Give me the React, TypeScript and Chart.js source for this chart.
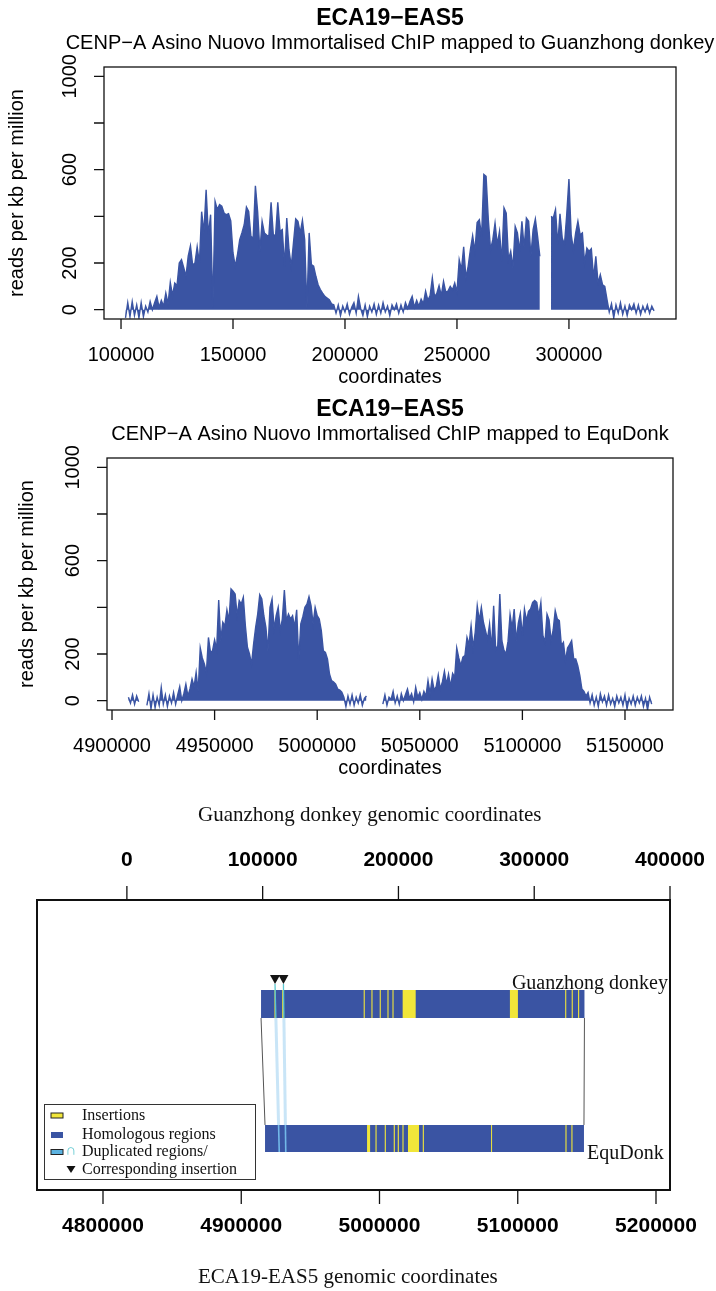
import { useEffect, useRef } from 'react';
import { Chart, registerables } from 'chart.js';

Chart.register(...registerables);

// ---------------------------------------------------------------------------
// ChIP signal, one value per kb (reads per kb per million), null = no data
// ---------------------------------------------------------------------------
const GUANZHONG_START_KB = 102;
const GUANZHONG_SIGNAL: (number | null)[] = [
  -35, 30, -30, 35, -25, 20, -35, 30, -30, 15, // 102-111
  -10, 35, 0, 30, 57, 10, 40, 15, 71, 25, // 112-121
  117, 60, 114, 103, 200, 214, 180, 143, 229, 274, // 122-131
  190, 200, 270, 200, 420, 329, 514, 320, 407, 10, // 132-141
  464, 429, 450, 443, 414, 407, 411, 380, 243, 186, // 142-151
  236, 300, 330, 364, 440, 421, 314, 307, 531, 421, // 152-161
  250, 379, 329, 320, 314, 460, 321, 317, 460, 336, // 162-171
  343, 186, 393, 257, 186, 286, 389, 379, 329, 383, // 172-181
  300, 5, 329, 193, 186, 143, 107, 86, 71, 57, // 182-191
  50, 43, 25, 21, -15, 20, -25, 15, -10, 25, // 192-201
  -20, 10, 30, -15, 57, 5, -25, 20, -30, 15, // 202-211
  -10, 25, -20, 20, -15, 30, -10, 15, -25, 20, // 212-221
  0, 25, -15, 20, -10, 30, 5, 35, 57, 10, // 222-231
  40, 15, 45, 25, 79, 40, 60, 136, 55, 70, // 232-241
  103, 60, 121, 75, 80, 100, 85, 114, 75, 214, // 242-251
  171, 269, 136, 186, 257, 317, 250, 374, 386, 314, // 252-261
  579, 571, 386, 257, 300, 371, 279, 336, 207, 436, // 262-271
  414, 214, 250, 179, 357, 329, 250, 379, 264, 393, // 272-281
  379, 229, 343, 389, 314, 229, null, null, null, null, // 282-291
  400, 393, 429, 279, 411, 307, 279, 407, 560, 321, // 292-301
  257, 329, 379, 321, 329, 200, 264, 250, 261, 136, // 302-311
  229, 114, 150, 107, 100, 43, -10, 25, -35, 20, // 312-321
  -15, 30, -20, 15, -25, 20, 0, 25, -15, 20, // 322-331
  -20, 15, -10, 20, -15, 15, -5, // 332-338
];

const EQUDONK_START_KB = 4908;
const EQUDONK_SIGNAL: (number | null)[] = [
  15, -10, 25, -15, 20, -5, null, null, null, -20, // 4908-4917
  30, -35, 25, -30, 15, -20, 57, -15, 25, -25, // 4918-4927
  20, -10, 35, -15, 25, 60, 0, 30, 71, 20, // 4928-4937
  50, 93, 60, 121, 40, 226, 183, 157, 120, 271, // 4938-4947
  207, 214, 260, 221, 431, 257, 336, 321, 389, 343, // 4948-4957
  479, 469, 457, 364, 429, 414, 443, 321, 229, 200, // 4958-4967
  157, 243, 314, 371, 454, 436, 364, 314, 214, 400, // 4968-4977
  436, 307, 364, 400, 300, 350, 474, 343, 371, 350, // 4978-4987
  364, 314, 389, 171, 329, 360, 400, 414, 446, 407, // 4988-4997
  329, 400, 364, 350, 300, 214, 207, 179, 114, 86, // 4998-5007
  80, 71, 50, 45, 36, 15, -25, 20, -15, 25, // 5008-5017
  -20, 15, -10, 25, -20, 10, 20, null, null, null, // 5018-5027
  null, null, null, null, -15, 25, -20, 15, 5, 40, // 5028-5037
  -10, 20, -15, 30, 0, 25, 50, 10, 30, -5, // 5038-5047
  57, 15, 35, 5, 40, 20, 86, 30, 93, 45, // 5048-5057
  60, 110, 50, 80, 126, 70, 114, 60, 117, 100, // 5058-5067
  226, 183, 150, 186, 193, 271, 240, 321, 226, 293, // 5068-5077
  407, 343, 400, 336, 300, 264, 329, 221, 407, 217, // 5078-5087
  236, 457, 257, 217, 200, 255, 369, 310, 393, 257, // 5088-5097
  331, 374, 279, 393, 343, 383, 393, 421, 429, 421, // 5098-5107
  364, 421, 279, 250, 371, 346, 257, 303, 386, 350, // 5108-5117
  343, 236, 250, 171, 226, 240, 257, 179, 179, 150, // 5118-5127
  107, 50, 40, 20, 35, -10, 25, -20, 15, -25, // 5128-5137
  30, -5, 20, -20, 25, -15, 10, -25, 20, -10, // 5138-5147
  15, -20, 25, -35, 10, -15, 20, -20, 15, -10, // 5148-5157
  20, -25, 10, -40, 15, -15, // 5158-5163
];

const GUANZHONG_X_TICKS = [100000, 150000, 200000, 250000, 300000];
const EQUDONK_X_TICKS = [4900000, 4950000, 5000000, 5050000, 5100000, 5150000];
const SIGNAL_Y_TICKS = [0, 200, 400, 600, 800, 1000];
const SIGNAL_Y_LABELS = ['0', '200', '', '600', '', '1000'];

// ---------------------------------------------------------------------------
// Alignment of the two assemblies (bp)
// ---------------------------------------------------------------------------
const GUANZHONG_BLOCK = [98800, 337000];
const EQUDONK_BLOCK = [4917200, 5147900];
const GUANZHONG_INSERTIONS = [
  [108700, 109500], [114400, 115600], [174400, 175200], [180100, 180900],
  [186200, 187000], [191900, 192700], [195600, 196400], [203100, 212700],
  [282100, 288000], [322800, 323600], [327600, 328400], [332300, 333100],
];
const EQUDONK_INSERTIONS = [
  [4991000, 4993200], [4997100, 4997900], [5003800, 5004600], [5010300, 5011100],
  [5013200, 5014000], [5016600, 5017400], [5020600, 5028600], [5031300, 5032100],
  [5080700, 5081200], [5134500, 5135300], [5138800, 5139600],
];
const GUANZHONG_DUPLICATIONS = [109100, 115300];
const EQUDONK_DUPLICATIONS = [4927500, 4932200];
const GUANZHONG_AXIS_TICKS = [0, 100000, 200000, 300000, 400000];
const EQUDONK_AXIS_TICKS = [4800000, 4900000, 5000000, 5100000, 5200000];

const BLUE = '#3a54a3';
const YELLOW = '#f1e63a';
const SANS = '"Liberation Sans", Arial, Helvetica, sans-serif';
const SERIF = '"Liberation Serif", "Times New Roman", serif';
const MINUS = '\u2212';

type SignalSpec = {
  top: number;
  title: string;
  subtitle: string;
  startKb: number;
  values: (number | null)[];
  xMin: number;
  xMax: number;
  xTicks: number[];
  padLeft: number;
  padRight: number;
  ylabX: number;
};

function signalAxesPlugin(p: SignalSpec) {
  return {
    id: 'signalAxes',
    afterDraw(chart: any) {
      const { ctx, chartArea: a } = chart;
      const x = chart.scales.x;
      const y = chart.scales.y;
      const cx = (a.left + a.right) / 2;
      const tick = 10;
      ctx.save();
      ctx.strokeStyle = '#111';
      ctx.fillStyle = '#000';
      ctx.lineWidth = 1.3;
      ctx.strokeRect(a.left, a.top, a.right - a.left, a.bottom - a.top);
      ctx.beginPath();
      p.xTicks.forEach((t) => {
        const px = x.getPixelForValue(t);
        ctx.moveTo(px, a.bottom);
        ctx.lineTo(px, a.bottom + tick);
      });
      SIGNAL_Y_TICKS.forEach((t) => {
        const py = y.getPixelForValue(t);
        ctx.moveTo(a.left, py);
        ctx.lineTo(a.left - tick, py);
      });
      ctx.stroke();

      ctx.font = `20px ${SANS}`;
      ctx.textAlign = 'center';
      ctx.textBaseline = 'middle';
      p.xTicks.forEach((t) => ctx.fillText(String(t), x.getPixelForValue(t), a.bottom + 36));
      ctx.fillText('coordinates', cx, a.bottom + 58.5);
      SIGNAL_Y_TICKS.forEach((t, i) => {
        const lab = SIGNAL_Y_LABELS[i];
        if (!lab) return;
        ctx.save();
        ctx.translate(a.left - 34, y.getPixelForValue(t));
        ctx.rotate(-Math.PI / 2);
        ctx.fillText(lab, 0, 0);
        ctx.restore();
      });
      ctx.save();
      ctx.translate(p.ylabX, (a.top + a.bottom) / 2);
      ctx.rotate(-Math.PI / 2);
      ctx.fillText('reads per kb per million', 0, 0);
      ctx.restore();

      ctx.font = `bold 23px ${SANS}`;
      ctx.fillText(p.title, cx, 18.5);
      ctx.font = `20px ${SANS}`;
      ctx.fillText(p.subtitle, cx, 43.5);
      ctx.restore();
    },
  };
}

function SignalPanel(p: SignalSpec) {
  const ref = useRef<HTMLCanvasElement>(null);
  useEffect(() => {
    const canvas = ref.current;
    if (!canvas) return;
    const points = p.values.map((v, i) => ({ x: (p.startKb + i) * 1000, y: v }));
    const chart = new Chart(canvas, {
      type: 'line',
      data: {
        datasets: [
          {
            data: points as any,
            borderColor: BLUE,
            backgroundColor: BLUE,
            borderWidth: 1.4,
            pointRadius: 0,
            tension: 0,
            spanGaps: false,
            fill: 'origin',
          },
        ],
      },
      options: {
        responsive: false,
        animation: false,
        devicePixelRatio: 1,
        events: [],
        layout: { padding: { left: p.padLeft, right: p.padRight, top: 67, bottom: 76 } },
        scales: {
          x: { type: 'linear', min: p.xMin, max: p.xMax, display: false },
          y: { type: 'linear', min: -40, max: 1040, display: false },
        },
        plugins: { legend: { display: false }, tooltip: { enabled: false } },
      },
      plugins: [signalAxesPlugin(p)],
    });
    return () => chart.destroy();
  }, []);
  return (
    <canvas
      ref={ref}
      width={716}
      height={395}
      style={{ position: 'absolute', left: 0, top: p.top, width: 716, height: 395, display: 'block' }}
    />
  );
}

// Vertical layout of the alignment panel, in y-scale units (0 = box top)
const TRI_BASE = 75;
const TRI_APEX = 84;
const TOP_TRACK = [90, 118];
const BOTTOM_TRACK = [225, 252];

const alignmentPlugin = {
  id: 'alignment',
  afterDraw(chart: any) {
    const { ctx, chartArea: a } = chart;
    const xt = chart.scales.xTop;
    const xb = chart.scales.xBottom;
    const y = chart.scales.y;
    const Y = (v: number) => y.getPixelForValue(v);
    ctx.save();

    // homologous blocks with their insertions
    const drawTrack = (scale: any, block: number[], ins: number[][], tr: number[]) => {
      const y0 = Y(tr[0]);
      const y1 = Y(tr[1]);
      ctx.fillStyle = BLUE;
      const bx0 = scale.getPixelForValue(block[0]);
      const bx1 = scale.getPixelForValue(block[1]);
      ctx.fillRect(bx0, y0, bx1 - bx0, y1 - y0);
      ctx.fillStyle = YELLOW;
      ins.forEach(([s, e]) => {
        const p0 = scale.getPixelForValue(s);
        const p1 = scale.getPixelForValue(e);
        ctx.fillRect(p0, y0, Math.max(1, p1 - p0), y1 - y0);
      });
      return [bx0, bx1];
    };
    const [t0, t1] = drawTrack(xt, GUANZHONG_BLOCK, GUANZHONG_INSERTIONS, TOP_TRACK);
    const [b0, b1] = drawTrack(xb, EQUDONK_BLOCK, EQUDONK_INSERTIONS, BOTTOM_TRACK);

    // block correspondence
    ctx.strokeStyle = '#555';
    ctx.lineWidth = 1;
    ctx.beginPath();
    ctx.moveTo(t0, Y(TOP_TRACK[1]));
    ctx.lineTo(b0, Y(BOTTOM_TRACK[0]));
    ctx.moveTo(t1, Y(TOP_TRACK[1]));
    ctx.lineTo(b1, Y(BOTTOM_TRACK[0]));
    ctx.stroke();

    // duplicated regions
    GUANZHONG_DUPLICATIONS.forEach((g, i) => {
      const tx = xt.getPixelForValue(g);
      const bx = xb.getPixelForValue(EQUDONK_DUPLICATIONS[i]);
      const ya = Y(TRI_APEX);
      const yz = Y(BOTTOM_TRACK[1]);
      const at = (yy: number) => tx + ((bx - tx) * (yy - ya)) / (yz - ya);
      ctx.strokeStyle = 'rgba(198,228,247,0.95)';
      ctx.lineWidth = 3;
      ctx.beginPath();
      ctx.moveTo(at(Y(TOP_TRACK[1])), Y(TOP_TRACK[1]));
      ctx.lineTo(at(Y(BOTTOM_TRACK[0])), Y(BOTTOM_TRACK[0]));
      ctx.stroke();
      ctx.strokeStyle = '#5cc7cf';
      ctx.lineWidth = 1.3;
      ctx.beginPath();
      ctx.moveTo(at(ya), ya);
      ctx.lineTo(at(Y(TOP_TRACK[1])), Y(TOP_TRACK[1]));
      ctx.stroke();
      ctx.strokeStyle = '#72b8e8';
      ctx.lineWidth = 1.6;
      ctx.beginPath();
      ctx.moveTo(at(Y(BOTTOM_TRACK[0])), Y(BOTTOM_TRACK[0]));
      ctx.lineTo(bx, yz);
      ctx.stroke();
    });
    ctx.fillStyle = '#151515';
    GUANZHONG_DUPLICATIONS.forEach((g) => {
      const tx = xt.getPixelForValue(g);
      ctx.beginPath();
      ctx.moveTo(tx - 5, Y(TRI_BASE));
      ctx.lineTo(tx + 5, Y(TRI_BASE));
      ctx.lineTo(tx, Y(TRI_APEX));
      ctx.closePath();
      ctx.fill();
    });

    // track names
    ctx.fillStyle = '#111';
    ctx.font = `20px ${SERIF}`;
    ctx.textBaseline = 'alphabetic';
    ctx.textAlign = 'right';
    ctx.fillText('Guanzhong donkey', a.right - 2, Y(TOP_TRACK[0]) - 1);
    ctx.textAlign = 'left';
    ctx.fillText('EquDonk', b1 + 3, Y(BOTTOM_TRACK[1]) + 6.5);

    // legend
    const lx = a.left + 7;
    const ly = a.top + 204;
    ctx.fillStyle = '#fff';
    ctx.fillRect(lx, ly, 212, 76);
    ctx.strokeStyle = '#333';
    ctx.lineWidth = 1;
    ctx.strokeRect(lx + 0.5, ly + 0.5, 211, 75);
    ctx.fillStyle = YELLOW;
    ctx.fillRect(lx + 7, ly + 9, 12, 5);
    ctx.strokeStyle = '#222';
    ctx.strokeRect(lx + 7, ly + 9, 12, 5);
    ctx.fillStyle = BLUE;
    ctx.fillRect(lx + 7, ly + 28, 12, 6);
    ctx.fillStyle = '#5bb2e0';
    ctx.fillRect(lx + 7, ly + 45.5, 12, 5);
    ctx.strokeRect(lx + 7, ly + 45.5, 12, 5);
    ctx.fillStyle = '#5cc7cf';
    ctx.font = `15px ${SANS}`;
    ctx.textAlign = 'center';
    ctx.textBaseline = 'middle';
    ctx.fillText('\u2229', lx + 27, ly + 47);
    ctx.fillStyle = '#111';
    ctx.beginPath();
    ctx.moveTo(lx + 22.5, ly + 62);
    ctx.lineTo(lx + 31.5, ly + 62);
    ctx.lineTo(lx + 27, ly + 69);
    ctx.closePath();
    ctx.fill();
    ctx.font = `16px ${SERIF}`;
    ctx.textAlign = 'left';
    ['Insertions', 'Homologous regions', 'Duplicated regions/', 'Corresponding insertion'].forEach(
      (t, i) => ctx.fillText(t, lx + 38, ly + [12, 31, 48, 65.5][i]),
    );

    // frame and both coordinate axes
    ctx.strokeStyle = '#111';
    ctx.lineWidth = 2;
    ctx.strokeRect(a.left, a.top, a.right - a.left, a.bottom - a.top);
    ctx.lineWidth = 1.3;
    ctx.beginPath();
    GUANZHONG_AXIS_TICKS.forEach((t) => {
      const px = xt.getPixelForValue(t);
      ctx.moveTo(px, a.top);
      ctx.lineTo(px, a.top - 14);
    });
    EQUDONK_AXIS_TICKS.forEach((t) => {
      const px = xb.getPixelForValue(t);
      ctx.moveTo(px, a.bottom);
      ctx.lineTo(px, a.bottom + 14);
    });
    ctx.stroke();
    ctx.fillStyle = '#000';
    ctx.font = `bold 21px ${SANS}`;
    ctx.textAlign = 'center';
    ctx.textBaseline = 'middle';
    GUANZHONG_AXIS_TICKS.forEach((t) => ctx.fillText(String(t), xt.getPixelForValue(t), a.top - 40));
    EQUDONK_AXIS_TICKS.forEach((t) => ctx.fillText(String(t), xb.getPixelForValue(t), a.bottom + 36));
    ctx.font = `21px ${SERIF}`;
    ctx.textAlign = 'left';
    ctx.fillStyle = '#111';
    ctx.fillText('Guanzhong donkey genomic coordinates', 198, a.top - 85);
    ctx.fillText('ECA19-EAS5 genomic coordinates', 198, a.bottom + 87);
    ctx.restore();
  },
};

function AlignmentPanel({ top }: { top: number }) {
  const ref = useRef<HTMLCanvasElement>(null);
  useEffect(() => {
    const canvas = ref.current;
    if (!canvas) return;
    const chart = new Chart(canvas, {
      type: 'scatter',
      data: { datasets: [] },
      options: {
        responsive: false,
        animation: false,
        devicePixelRatio: 1,
        events: [],
        layout: { padding: { left: 37, right: 46, top: 110, bottom: 101 } },
        scales: {
          xTop: { type: 'linear', position: 'top', min: -66200, max: 400000, display: false },
          xBottom: { type: 'linear', position: 'bottom', min: 4752260, max: 5210130, display: false },
          y: { type: 'linear', min: 0, max: 290, reverse: true, display: false },
        },
        plugins: { legend: { display: false }, tooltip: { enabled: false } },
      },
      plugins: [alignmentPlugin],
    });
    return () => chart.destroy();
  }, []);
  return (
    <canvas
      ref={ref}
      width={716}
      height={501}
      style={{ position: 'absolute', left: 0, top, width: 716, height: 501, display: 'block' }}
    />
  );
}

export default function App() {
  return (
    <div style={{ position: 'absolute', left: 0, top: 0, width: 716, height: 1291, background: '#fff' }}>
      <SignalPanel
        top={0}
        title={`ECA19${MINUS}EAS5`}
        subtitle={`CENP${MINUS}A Asino Nuovo Immortalised ChIP mapped to Guanzhong donkey`}
        startKb={GUANZHONG_START_KB}
        values={GUANZHONG_SIGNAL}
        xMin={92400}
        xMax={347800}
        xTicks={GUANZHONG_X_TICKS}
        padLeft={104}
        padRight={40}
        ylabX={17}
      />
      <SignalPanel
        top={391}
        title={`ECA19${MINUS}EAS5`}
        subtitle={`CENP${MINUS}A Asino Nuovo Immortalised ChIP mapped to EquDonk`}
        startKb={EQUDONK_START_KB}
        values={EQUDONK_SIGNAL}
        xMin={4897560}
        xMax={5173400}
        xTicks={EQUDONK_X_TICKS}
        padLeft={107}
        padRight={43}
        ylabX={27}
      />
      <AlignmentPanel top={790} />
    </div>
  );
}
